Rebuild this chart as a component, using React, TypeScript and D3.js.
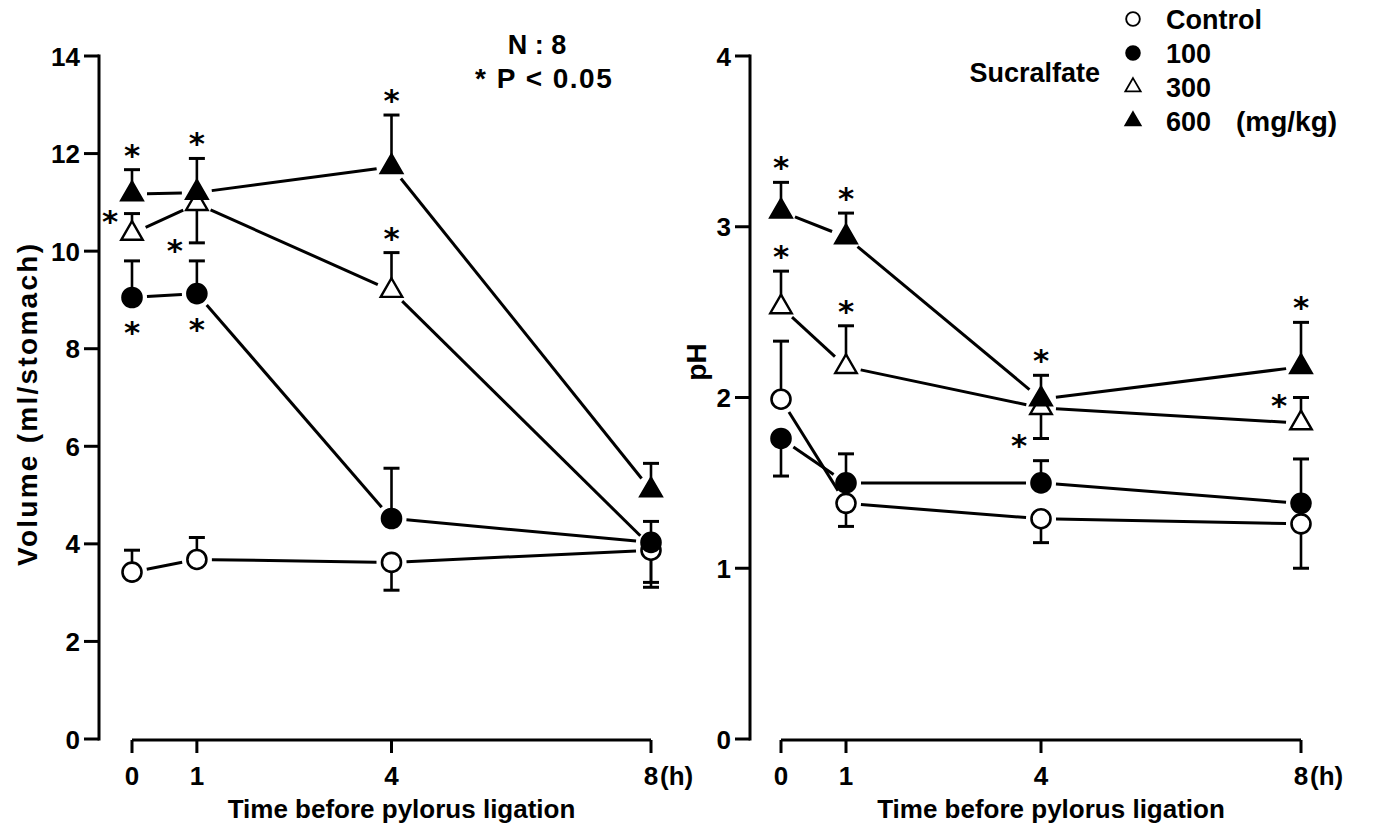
import React from 'react';
import * as d3 from 'd3';

const hours = [0, 1, 4, 8];
const xTicks = [0, 1, 4, 8];
const volTicks = [0, 2, 4, 6, 8, 10, 12, 14];
const phTicks = [0, 1, 2, 3, 4];

// gastric volume (ml/stomach): mean, then the end of the SE bar
const volControl = [3.42, 3.68, 3.62, 3.87];
const volControlErr = [3.87, 4.13, 3.05, 3.21];
const vol100 = [9.05, 9.13, 4.52, 4.03];
const vol100Err = [9.8, 9.8, 5.55, 4.46];
const vol300 = [10.36, 10.97, 9.19, 3.95];
const vol300Err = [10.77, 10.17, 9.97, 3.11];
const vol600 = [11.17, 11.2, 11.73, 5.1];
const vol600Err = [11.67, 11.9, 12.79, 5.65];

// gastric pH
const phControl = [1.99, 1.38, 1.29, 1.26];
const phControlErr = [2.33, 1.245, 1.15, 1.0];
const ph100 = [1.76, 1.5, 1.5, 1.38];
const ph100Err = [1.54, 1.67, 1.63, 1.64];
const ph300 = [2.53, 2.18, 1.94, 1.85];
const ph300Err = [2.74, 2.42, 1.76, 2.0];
const ph600 = [3.09, 2.94, 1.99, 2.18];
const ph600Err = [3.26, 3.08, 2.13, 2.44];

// where the * (P<0.05) sits: up / down / left, '' = not significant
const volSig100 = ['down', 'down', '', ''];
const volSig300 = ['left', 'left', 'up', ''];
const volSig600 = ['up', 'up', 'up', ''];
const phSig300 = ['up', 'up', 'left', 'left'];
const phSig600 = ['up', 'up', 'up', 'up'];
const noSig = ['', '', '', ''];

const legendLabels = ['Control', '100', '300', '600'];
const markerTypes = ['openCircle', 'filledCircle', 'openTriangle', 'filledTriangle'];

const FONT = '"Liberation Sans", Arial, sans-serif';
const W = 1380;
const H = 828;

function Marker({ type, x, y }) {
    const fill = type.startsWith('filled') ? '#000' : '#fff';
    if (type.endsWith('Circle')) {
        return <circle cx={x} cy={y} r={9.5} fill={fill} stroke="#000" strokeWidth={2.6} />;
    }
    const sym = d3.symbol().type(d3.symbolTriangle).size(200);
    return <path d={sym()} transform={`translate(${x},${y})`} fill={fill} stroke="#000" strokeWidth={2.4} />;
}

function Star({ x, y }) {
    return (
        <text x={x} y={y + 18} textAnchor="middle" fontFamily='"DejaVu Sans", sans-serif' fontWeight="bold" fontSize={31}>*</text>
    );
}

function Panel({ xRange, yDomain, yTicks, axisX, series, yLabel, yLabelX, yLabelY, yLabelLen }) {
    const x = d3.scaleLinear().domain([0, 8]).range(xRange);
    const y = d3.scaleLinear().domain(yDomain).range([739, 56]);
    const gap = 15;

    const segs = [];
    series.forEach((s, si) => {
        for (let i = 0; i < hours.length - 1; i++) {
            const x1 = x(hours[i]), y1 = y(s.values[i]);
            const x2 = x(hours[i + 1]), y2 = y(s.values[i + 1]);
            const len = Math.hypot(x2 - x1, y2 - y1);
            const ux = (x2 - x1) / len, uy = (y2 - y1) / len;
            segs.push(
                <line key={`l${si}-${i}`} x1={x1 + ux * gap} y1={y1 + uy * gap} x2={x2 - ux * gap} y2={y2 - uy * gap}
                    stroke="#000" strokeWidth={3} />
            );
        }
    });

    return (
        <g>
            {/* y axis */}
            <line x1={axisX} x2={axisX} y1={y(yDomain[1])} y2={y(0)} stroke="#000" strokeWidth={3} strokeLinecap="square" />
            {yTicks.map(t => (
                <g key={t}>
                    <line x1={axisX - 15} x2={axisX} y1={y(t)} y2={y(t)} stroke="#000" strokeWidth={3} />
                    <text x={axisX - 19} y={y(t) + 9.5} textAnchor="end" fontFamily={FONT} fontWeight="bold" fontSize={26}>{t}</text>
                </g>
            ))}
            <text transform={`translate(${yLabelX},${yLabelY}) rotate(-90)`} textAnchor="middle" fontFamily={FONT} fontWeight="bold" fontSize={28}
                textLength={yLabelLen} lengthAdjust="spacing">{yLabel}</text>

            {/* x axis, drawn apart from the y axis */}
            <line x1={x(0)} x2={x(8)} y1={740} y2={740} stroke="#000" strokeWidth={3.2} />
            {xTicks.map(t => (
                <g key={t}>
                    <line x1={x(t)} x2={x(t)} y1={740} y2={753} stroke="#000" strokeWidth={3} />
                    <text x={x(t)} y={785} textAnchor="middle" fontFamily={FONT} fontWeight="bold" fontSize={26}>{t}</text>
                </g>
            ))}
            <text x={x(8) + 9} y={785} fontFamily={FONT} fontWeight="bold" fontSize={26}>(h)</text>
            <text x={(x(0) + x(8)) / 2 + 10} y={818} textAnchor="middle" fontFamily={FONT} fontWeight="bold" fontSize={26}>Time before pylorus ligation</text>

            {segs}

            {series.map((s, si) => (
                <g key={`e${si}`}>
                    {s.values.map((v, i) => (
                        <g key={i}>
                            <line x1={x(hours[i])} x2={x(hours[i])} y1={y(v)} y2={y(s.err[i])} stroke="#000" strokeWidth={2.6} />
                            <line x1={x(hours[i]) - 8} x2={x(hours[i]) + 8} y1={y(s.err[i])} y2={y(s.err[i])} stroke="#000" strokeWidth={3} />
                        </g>
                    ))}
                </g>
            ))}

            {series.map((s, si) => (
                <g key={`m${si}`}>
                    {s.values.map((v, i) => (s.hidden && s.hidden[i]) ? null : (
                        <Marker key={i} type={s.type} x={x(hours[i])} y={y(v)} />
                    ))}
                </g>
            ))}

            {series.map((s, si) => (
                <g key={`s${si}`}>
                    {s.sig.map((d, i) => {
                        if (!d) return null;
                        const cx = x(hours[i]);
                        if (d === 'up') return <Star key={i} x={cx} y={y(s.err[i]) - 22} />;
                        if (d === 'down') return <Star key={i} x={cx} y={y(s.values[i]) + 28} />;
                        return <Star key={i} x={cx - 22} y={y(s.err[i])} />;
                    })}
                </g>
            ))}
        </g>
    );
}

export default function App() {
    const volSeries = [
        { type: 'openCircle', values: volControl, err: volControlErr, sig: noSig },
        { type: 'openTriangle', values: vol300, err: vol300Err, sig: volSig300, hidden: [false, false, false, true] },
        { type: 'filledCircle', values: vol100, err: vol100Err, sig: volSig100 },
        { type: 'filledTriangle', values: vol600, err: vol600Err, sig: volSig600 },
    ];
    const phSeries = [
        { type: 'openCircle', values: phControl, err: phControlErr, sig: noSig },
        { type: 'filledCircle', values: ph100, err: ph100Err, sig: noSig },
        { type: 'openTriangle', values: ph300, err: ph300Err, sig: phSig300 },
        { type: 'filledTriangle', values: ph600, err: ph600Err, sig: phSig600 },
    ];

    return (
        <svg width={W} height={H} style={{ display: 'block', position: 'absolute', left: 0, top: 0, background: '#fff' }}>
            <rect width={W} height={H} fill="#fff" />
            <Panel xRange={[132, 651]} yDomain={[0, 14]} yTicks={volTicks} axisX={99} series={volSeries}
                yLabel="Volume (ml/stomach)" yLabelX={37} yLabelY={405} yLabelLen={322} />
            <Panel xRange={[781, 1301]} yDomain={[0, 4]} yTicks={phTicks} axisX={750} series={phSeries}
                yLabel="pH" yLabelX={706} yLabelY={362} />

            {/* notes */}
            <text x={537} y={54} textAnchor="middle" fontFamily={FONT} fontWeight="bold" fontSize={27} xmlSpace="preserve">N : 8</text>
            <text x={475} y={88} fontFamily={FONT} fontWeight="bold" fontSize={28} letterSpacing={1.5}>* P &lt; 0.05</text>

            {/* legend */}
            <text x={1100} y={82} textAnchor="end" fontFamily={FONT} fontWeight="bold" fontSize={27}>Sucralfate</text>
            {legendLabels.map((lab, i) => (
                <g key={lab}>
                    <g transform={`translate(${1133},${19 + i * 34}) scale(0.72)`}>
                        <Marker type={markerTypes[i]} x={0} y={0} />
                    </g>
                    <text x={1166} y={19 + i * 34 + 10} fontFamily={FONT} fontWeight="bold" fontSize={27}>{lab}</text>
                </g>
            ))}
            <text x={1236} y={19 + 3 * 34 + 10} fontFamily={FONT} fontWeight="bold" fontSize={28}>(mg/kg)</text>
        </svg>
    );
}
